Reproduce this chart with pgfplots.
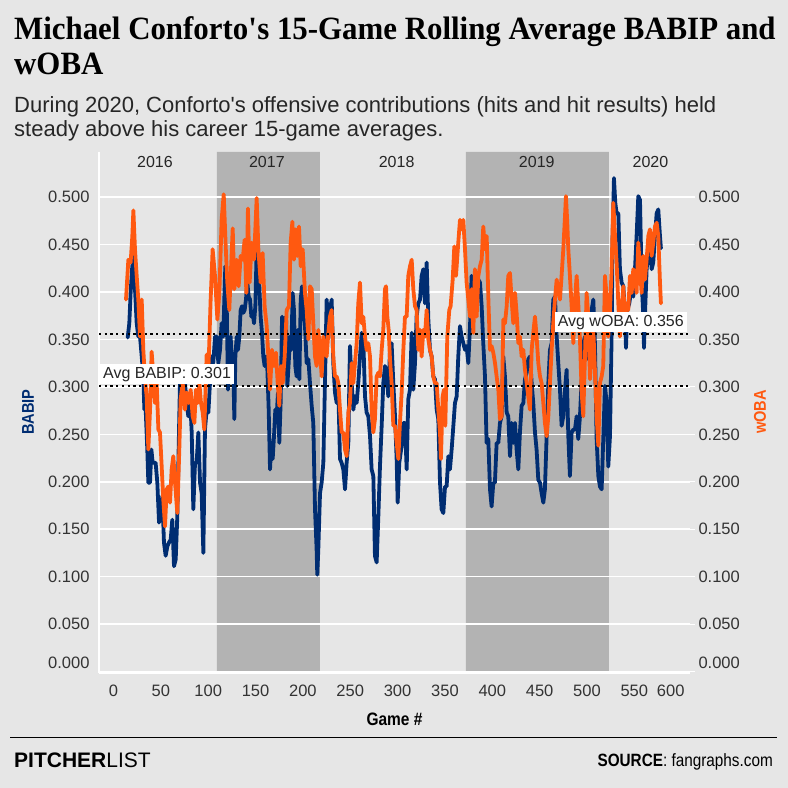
\documentclass[border=0pt]{standalone}
\usepackage{pgfplots}
\pgfplotsset{compat=1.18}
\usepackage{pgfplotstable}
\usepackage{fontspec}
\setmainfont{Liberation Sans}
\newfontfamily\condfont{Liberation Sans}[FakeStretch=0.86]
\newfontfamily\titlefont{Liberation Serif}[FakeStretch=0.95]
\definecolor{bg}{HTML}{E6E6E6}
\definecolor{shade}{HTML}{B3B3B3}
\definecolor{navy}{HTML}{002D72}
\definecolor{mets}{HTML}{FF5910}
\definecolor{tickc}{HTML}{333333}
\pagecolor{bg}

\pgfplotstableread{
g v
15.0 0.352
16.7 0.367
18.1 0.399
19.6 0.424
21.0 0.439
22.7 0.403
24.5 0.367
26.2 0.353
28.0 0.353
29.8 0.332
31.5 0.311
32.6 0.276
34.0 0.276
35.7 0.234
36.8 0.199
38.6 0.199
40.0 0.234
41.4 0.220
42.8 0.220
44.5 0.220
46.3 0.199
48.1 0.157
49.8 0.167
51.6 0.185
53.3 0.136
55.1 0.122
56.9 0.132
58.6 0.136
60.4 0.139
62.1 0.160
63.9 0.111
65.7 0.118
67.4 0.164
68.8 0.234
70.2 0.304
72.0 0.283
73.8 0.297
75.5 0.304
77.3 0.283
79.0 0.269
80.8 0.290
82.6 0.252
84.3 0.171
86.1 0.220
87.8 0.220
89.6 0.252
91.4 0.199
93.1 0.188
94.9 0.125
96.6 0.255
98.4 0.276
100.2 0.273
101.9 0.304
103.7 0.332
105.4 0.325
107.2 0.353
109.0 0.353
110.7 0.325
112.5 0.339
114.2 0.367
116.0 0.353
117.1 0.395
118.1 0.427
119.5 0.392
120.9 0.297
122.3 0.339
123.7 0.353
125.2 0.325
126.6 0.318
127.6 0.266
128.7 0.332
130.1 0.353
131.5 0.339
132.9 0.353
134.3 0.381
135.7 0.385
137.1 0.378
138.5 0.381
139.9 0.392
141.3 0.410
142.8 0.395
144.2 0.392
145.6 0.374
147.0 0.378
148.4 0.367
149.8 0.385
151.2 0.445
152.6 0.417
154.0 0.406
155.4 0.374
156.8 0.357
158.2 0.332
159.6 0.322
161.1 0.332
162.5 0.318
163.9 0.276
165.3 0.213
166.7 0.241
168.1 0.224
169.5 0.248
170.9 0.276
172.3 0.269
173.7 0.294
175.1 0.241
176.5 0.283
178.0 0.374
179.4 0.346
180.8 0.332
182.2 0.374
183.6 0.301
185.0 0.325
186.4 0.353
187.8 0.339
189.2 0.399
190.6 0.381
192.0 0.322
193.4 0.311
194.8 0.360
196.3 0.308
197.7 0.392
199.1 0.406
200.5 0.385
202.2 0.364
204.0 0.325
205.8 0.329
207.5 0.304
209.3 0.280
211.0 0.262
212.8 0.171
214.5 0.129
215.2 0.102
216.3 0.129
218.1 0.188
219.8 0.199
221.6 0.220
223.3 0.304
225.1 0.392
226.9 0.367
228.6 0.381
230.4 0.392
232.1 0.325
233.9 0.294
235.7 0.283
237.4 0.297
239.2 0.224
240.9 0.220
242.7 0.213
244.5 0.192
246.2 0.220
248.0 0.241
249.7 0.343
251.5 0.304
253.3 0.276
255.0 0.290
256.8 0.283
258.5 0.304
260.3 0.332
262.1 0.357
263.8 0.350
265.6 0.290
267.3 0.273
269.1 0.269
270.9 0.248
272.6 0.213
274.4 0.206
276.1 0.122
277.9 0.115
279.7 0.164
281.4 0.216
283.2 0.259
284.9 0.304
286.7 0.322
288.5 0.311
290.2 0.290
292.0 0.339
293.7 0.346
295.5 0.304
297.3 0.269
299.0 0.224
300.1 0.178
301.8 0.220
304.3 0.238
306.1 0.262
307.8 0.262
309.6 0.213
311.3 0.287
313.1 0.297
314.9 0.357
316.6 0.297
318.4 0.325
320.1 0.374
321.9 0.388
323.7 0.392
325.4 0.417
327.2 0.424
328.9 0.388
330.7 0.431
332.5 0.371
334.2 0.339
336.0 0.332
337.7 0.311
339.5 0.308
341.3 0.276
343.0 0.266
344.8 0.199
346.5 0.171
348.3 0.167
350.1 0.195
351.8 0.195
353.6 0.227
355.3 0.213
357.1 0.234
358.9 0.259
360.6 0.283
362.4 0.290
364.1 0.332
365.9 0.364
367.7 0.353
369.4 0.346
371.2 0.339
372.9 0.343
374.7 0.325
376.5 0.364
378.2 0.417
380.0 0.410
381.7 0.381
383.5 0.403
385.3 0.413
387.0 0.410
388.8 0.385
390.5 0.346
392.3 0.311
394.0 0.241
395.8 0.245
397.6 0.192
399.3 0.174
401.1 0.199
402.8 0.199
404.6 0.241
406.4 0.241
408.1 0.262
409.9 0.269
411.6 0.332
413.4 0.311
415.2 0.273
416.9 0.269
418.7 0.227
420.4 0.262
422.2 0.241
424.0 0.262
425.7 0.234
427.5 0.213
429.2 0.252
431.0 0.280
432.8 0.283
434.5 0.308
436.3 0.315
438.0 0.329
439.8 0.332
441.6 0.304
443.3 0.283
445.1 0.252
446.8 0.234
448.6 0.202
450.4 0.199
452.1 0.188
453.9 0.178
455.6 0.192
457.4 0.248
459.2 0.304
460.9 0.339
462.7 0.346
464.4 0.392
466.2 0.395
468.0 0.353
469.7 0.325
471.5 0.297
473.2 0.259
475.0 0.269
476.8 0.297
478.5 0.318
480.3 0.248
482.0 0.206
483.8 0.252
485.6 0.255
487.3 0.255
489.1 0.269
490.8 0.245
492.6 0.269
494.4 0.308
496.1 0.346
497.9 0.353
499.6 0.329
501.4 0.350
503.2 0.336
504.9 0.381
506.7 0.392
508.4 0.346
510.2 0.245
512.0 0.206
513.7 0.195
515.5 0.192
517.2 0.245
519.0 0.301
520.8 0.283
522.5 0.216
524.3 0.248
526.0 0.353
527.1 0.459
528.5 0.520
529.9 0.494
531.3 0.483
533.1 0.483
534.8 0.424
536.6 0.410
538.4 0.406
540.1 0.378
541.2 0.341
542.6 0.381
544.7 0.388
547.2 0.406
548.9 0.395
550.7 0.424
552.4 0.459
554.2 0.501
556.0 0.497
557.7 0.413
559.5 0.374
560.2 0.341
561.2 0.374
563.0 0.424
564.8 0.441
566.5 0.452
568.3 0.424
570.0 0.431
571.8 0.459
573.6 0.483
575.3 0.487
577.1 0.459
578.1 0.446
}\babip

\pgfplotstableread{
g v
13.2 0.392
15.7 0.434
18.1 0.431
19.9 0.459
21.0 0.486
22.7 0.445
24.5 0.417
26.2 0.392
28.0 0.353
29.8 0.392
31.5 0.339
33.3 0.308
35.0 0.290
36.8 0.234
38.6 0.276
40.3 0.337
42.1 0.311
43.8 0.283
45.6 0.304
47.4 0.255
49.1 0.252
50.9 0.216
52.6 0.181
54.4 0.153
56.2 0.192
57.9 0.195
59.7 0.178
61.4 0.213
63.2 0.227
65.0 0.199
67.4 0.167
69.5 0.234
70.9 0.287
73.1 0.304
75.5 0.276
77.3 0.294
79.4 0.283
81.5 0.297
83.6 0.269
85.4 0.262
87.1 0.297
88.9 0.283
90.7 0.304
92.4 0.283
94.2 0.273
95.9 0.255
98.4 0.334
100.5 0.325
102.6 0.392
104.7 0.445
107.2 0.417
109.7 0.371
111.8 0.399
114.2 0.476
116.4 0.503
118.5 0.448
120.2 0.410
122.3 0.381
124.1 0.424
125.9 0.467
127.6 0.403
130.1 0.434
132.2 0.406
134.3 0.438
136.4 0.434
138.5 0.455
140.3 0.399
142.0 0.488
143.8 0.410
145.9 0.452
148.4 0.434
151.2 0.499
153.0 0.445
155.4 0.410
157.5 0.441
159.6 0.385
161.8 0.364
163.5 0.332
165.3 0.297
167.4 0.339
169.5 0.322
171.6 0.336
173.4 0.304
175.1 0.280
176.9 0.322
178.7 0.304
180.8 0.332
182.9 0.381
185.3 0.385
187.1 0.452
188.9 0.474
190.6 0.434
192.4 0.466
194.1 0.438
195.9 0.469
197.7 0.427
199.8 0.445
202.2 0.399
204.0 0.381
205.8 0.350
207.5 0.406
209.3 0.403
211.0 0.367
212.8 0.332
214.5 0.322
216.3 0.360
218.1 0.339
219.8 0.311
221.6 0.353
223.3 0.343
225.1 0.332
226.9 0.357
228.6 0.374
230.4 0.381
232.1 0.332
233.9 0.311
235.7 0.311
237.4 0.304
239.2 0.276
240.9 0.252
242.7 0.252
244.5 0.234
246.2 0.227
248.0 0.273
249.7 0.283
251.5 0.325
253.3 0.304
255.0 0.325
256.8 0.346
258.5 0.388
260.3 0.410
262.1 0.367
263.8 0.374
265.6 0.353
267.3 0.339
269.1 0.346
270.9 0.332
272.6 0.276
274.4 0.252
276.1 0.266
277.9 0.311
279.7 0.315
281.4 0.311
283.2 0.339
284.9 0.360
286.7 0.403
287.8 0.406
289.2 0.374
290.6 0.360
292.0 0.329
293.7 0.304
295.5 0.259
297.3 0.259
299.0 0.241
300.8 0.224
302.5 0.262
304.3 0.294
306.1 0.339
307.8 0.374
309.6 0.374
311.3 0.417
313.1 0.427
314.9 0.434
316.6 0.403
318.4 0.385
320.1 0.381
321.9 0.339
323.7 0.360
325.4 0.332
327.2 0.360
328.9 0.353
330.7 0.381
332.5 0.350
334.2 0.339
336.0 0.332
337.7 0.311
339.5 0.304
341.3 0.304
343.0 0.276
344.8 0.252
345.8 0.224
347.6 0.290
349.0 0.297
350.4 0.259
352.5 0.353
354.6 0.381
356.0 0.385
358.2 0.413
359.9 0.448
361.7 0.417
364.1 0.452
365.9 0.476
367.7 0.466
369.4 0.476
371.2 0.445
372.9 0.410
374.7 0.392
376.5 0.374
378.2 0.403
380.0 0.357
381.7 0.424
383.5 0.374
385.3 0.417
387.0 0.427
388.8 0.434
390.5 0.469
392.3 0.445
394.1 0.459
395.8 0.395
397.6 0.339
399.3 0.343
401.1 0.336
402.9 0.325
404.6 0.311
406.4 0.297
408.1 0.266
409.9 0.269
411.7 0.371
413.4 0.367
415.2 0.385
416.9 0.417
418.7 0.420
420.4 0.392
422.2 0.367
424.0 0.399
425.7 0.378
427.5 0.346
429.2 0.353
431.0 0.332
432.8 0.339
434.5 0.318
436.3 0.304
438.0 0.290
439.8 0.276
441.6 0.339
443.3 0.357
445.1 0.374
446.8 0.353
448.6 0.325
450.4 0.311
452.1 0.304
453.9 0.283
455.6 0.262
457.4 0.248
459.2 0.269
460.9 0.304
462.7 0.339
464.4 0.367
466.2 0.392
468.0 0.413
469.7 0.403
471.5 0.392
473.2 0.417
475.0 0.445
476.8 0.480
477.8 0.501
479.2 0.473
480.3 0.445
482.0 0.417
483.8 0.385
485.6 0.346
487.3 0.392
489.1 0.417
490.8 0.388
492.6 0.350
494.4 0.294
496.1 0.269
497.9 0.332
499.6 0.399
501.4 0.374
503.2 0.308
504.9 0.336
506.7 0.360
508.4 0.318
510.2 0.269
512.0 0.238
513.7 0.304
515.5 0.311
517.2 0.322
519.0 0.417
520.8 0.395
522.5 0.353
524.3 0.381
526.0 0.424
527.8 0.494
529.6 0.459
531.3 0.431
533.1 0.388
534.8 0.353
536.6 0.381
538.4 0.406
540.1 0.371
541.9 0.388
543.6 0.381
545.4 0.417
547.2 0.399
548.9 0.424
550.7 0.417
552.4 0.399
554.2 0.452
556.0 0.424
557.7 0.399
559.5 0.438
561.2 0.413
563.0 0.434
564.8 0.459
566.5 0.466
568.3 0.438
570.0 0.452
571.8 0.469
573.6 0.473
575.3 0.459
577.1 0.410
578.1 0.388
}\woba

\begin{document}
\begin{tikzpicture}
\path (0,0) rectangle (788pt,788pt);

% titles
\node[anchor=base west, inner sep=0pt, font=\titlefont\bfseries\fontsize{32.5}{38}\selectfont] at (14pt,748pt) {Michael Conforto\textquotesingle s 15-Game Rolling Average BABIP and};
\node[anchor=base west, inner sep=0pt, font=\titlefont\bfseries\fontsize{32.5}{38}\selectfont] at (14pt,713pt) {wOBA};
\node[anchor=base west, inner sep=0pt, font=\fontsize{22}{26}\selectfont, text=black!85] at (14pt,675pt) {During 2020, Conforto\textquotesingle s offensive contributions (hits and hit results) held};
\node[anchor=base west, inner sep=0pt, font=\fontsize{22}{26}\selectfont, text=black!85] at (14pt,651pt) {steady above his career 15-game averages.};

\begin{axis}[
  set layers,
  at={(99pt,115pt)}, anchor=south west,
  width=591pt, height=521pt, scale only axis,
  xmin=-15.3, xmax=608.8, ymin=-0.0015, ymax=0.5475,
  axis x line*=bottom, axis y line*=left,
  axis line style={white, line width=1.2pt, -},
  xtick={0,50,100,150,200,250,300,350,400,450,500,550,600},
  xticklabels={0,50,100,150,200,250,300,350,400,450,500,550,\hspace*{-22pt}600},
  ytick={0,0.05,0.1,0.15,0.2,0.25,0.3,0.35,0.4,0.45,0.5},
  yticklabels={\raisebox{18pt}{0.000},0.050,0.100,0.150,0.200,0.250,0.300,0.350,0.400,0.450,0.500},
  ymajorgrids, grid style={white, line width=1.5pt},
  major tick length=0pt,
  tick label style={font=\fontsize{16.5}{18}\selectfont, text=tickc},
  xticklabel style={yshift=-8.5pt},
  yticklabel style={xshift=-6pt},
  xlabel={Game \#},
  xlabel style={font=\condfont\bfseries\fontsize{18}{20}\selectfont, at={(axis description cs:0.5,0)}, anchor=center, yshift=-46pt},
]
\addplot[on layer=axis background, fill=shade, draw=none] coordinates {(109.3,-0.0015) (109.3,0.5475) (218,0.5475) (218,-0.0015)} \closedcycle;
\addplot[on layer=axis background, fill=shade, draw=none] coordinates {(372,-0.0015) (372,0.5475) (523,0.5475) (523,-0.0015)} \closedcycle;
\addplot[navy, line width=3.8pt, line join=round, line cap=round] table[x=g, y=v] {\babip};
\addplot[mets, line width=3.8pt, line join=round, line cap=round] table[x=g, y=v] {\woba};
\addplot[black, line width=2.3pt, dash pattern=on 2.3pt off 3.4pt] coordinates {(-15.3,0.356) (608.8,0.356)};
\addplot[black, line width=2.3pt, dash pattern=on 2.3pt off 3.4pt] coordinates {(-15.3,0.301) (608.8,0.301)};
\node[font=\fontsize{16}{18}\selectfont, text=black!85] at (axis cs:43.8,0.537) {2016};
\node[font=\fontsize{16}{18}\selectfont, text=black!85] at (axis cs:162,0.537) {2017};
\node[font=\fontsize{16}{18}\selectfont, text=black!85] at (axis cs:299,0.537) {2018};
\node[font=\fontsize{16}{18}\selectfont, text=black!85] at (axis cs:447,0.537) {2019};
\node[font=\fontsize{16}{18}\selectfont, text=black!85] at (axis cs:567,0.537) {2020};
\node[fill=white, anchor=south west, inner xsep=3pt, inner ysep=0pt, minimum height=20pt, font=\fontsize{16}{18}\selectfont, text=black!85] at (axis cs:-14.3,0.3025) {Avg BABIP: 0.301};
\node[fill=white, anchor=south east, inner xsep=3pt, inner ysep=0pt, minimum height=20pt, font=\fontsize{16}{18}\selectfont, text=black!85] at (axis cs:605.6,0.3575) {Avg wOBA: 0.356};
\end{axis}

\begin{axis}[
  at={(99pt,115pt)}, anchor=south west,
  width=591pt, height=521pt, scale only axis,
  xmin=-15.3, xmax=608.8, ymin=-0.0015, ymax=0.5475,
  axis x line=none, axis y line*=right,
  axis line style={draw=none},
  ytick={0,0.05,0.1,0.15,0.2,0.25,0.3,0.35,0.4,0.45,0.5},
  yticklabels={\raisebox{18pt}{0.000},0.050,0.100,0.150,0.200,0.250,0.300,0.350,0.400,0.450,0.500},
  major tick length=5pt, tick align=outside,
  tick style={white, line width=1.2pt},
  tick label style={font=\fontsize{16.5}{18}\selectfont, text=tickc},
  yticklabel style={anchor=west},
]
\addplot[draw=none] coordinates {(0,0.1)};
\end{axis}

\node[rotate=90, font=\condfont\bfseries\fontsize{17}{20}\selectfont, text=navy] at (28pt,376pt) {BABIP};
\node[rotate=90, font=\condfont\bfseries\fontsize{17}{20}\selectfont, text=mets] at (760pt,376pt) {wOBA};

% footer
\draw[black, line width=1pt] (10pt,50.5pt) -- (777pt,50.5pt);
\node[anchor=base west, inner sep=0pt, font=\fontsize{21}{23}\selectfont] at (14pt,20pt) {\textbf{PITCHER}LIST};
\node[anchor=base east, inner sep=0pt, font=\condfont\fontsize{17.8}{20}\selectfont] at (773pt,21pt) {\textbf{SOURCE}: fangraphs.com};
\end{tikzpicture}
\end{document}
